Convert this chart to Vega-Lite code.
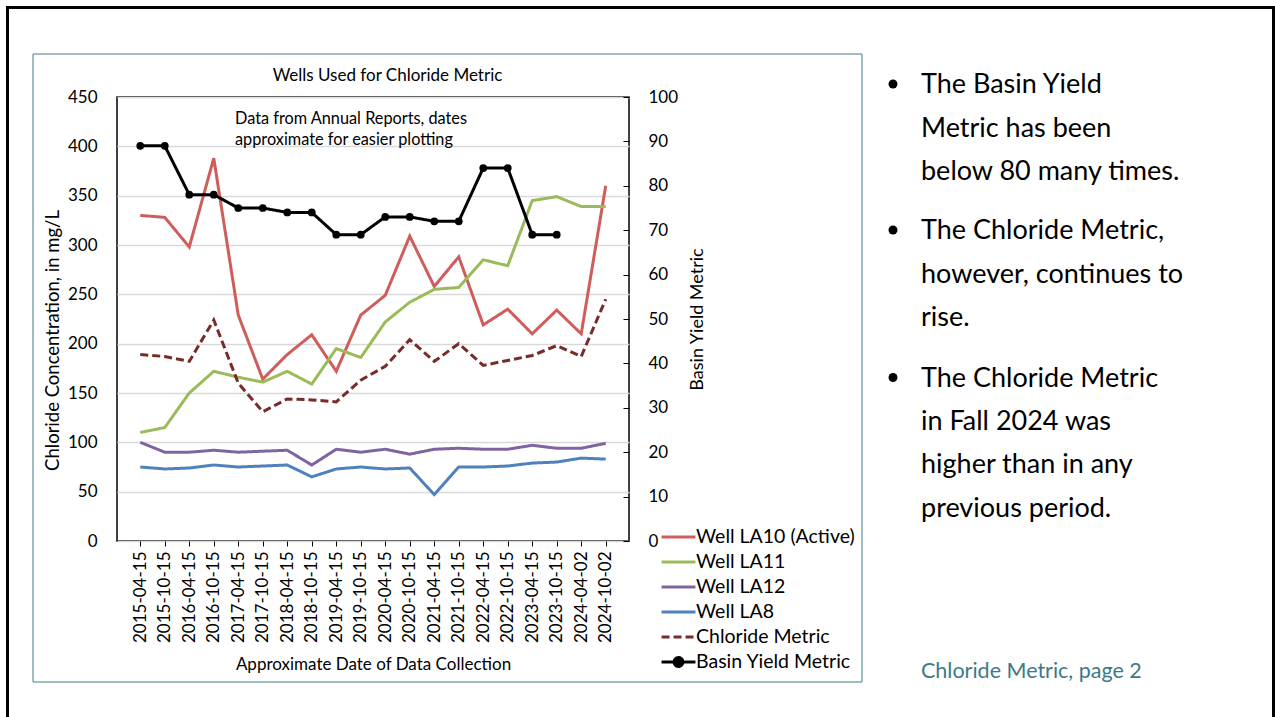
{
  "$schema": "https://vega.github.io/schema/vega-lite/v6.json",
  "width": 512,
  "height": 444,
  "autosize": {"type": "none"},
  "padding": {"left": 117, "top": 97, "right": 646, "bottom": 176},
  "background": "white",
  "config": {
    "font": "Lato",
    "view": {"stroke": "#000", "strokeWidth": 1.5},
    "axis": {"labelFont": "Lato", "titleFont": "Lato", "labelColor": "#000", "titleColor": "#000", "titleFontWeight": "normal", "tickColor": "#000", "domain": false}
  },
  "datasets": {
    "chem": [
      {"date": "2015-04-15", "series": "Well LA10 (Active)", "value": 330},
      {"date": "2015-10-15", "series": "Well LA10 (Active)", "value": 328},
      {"date": "2016-04-15", "series": "Well LA10 (Active)", "value": 298},
      {"date": "2016-10-15", "series": "Well LA10 (Active)", "value": 388},
      {"date": "2017-04-15", "series": "Well LA10 (Active)", "value": 229},
      {"date": "2017-10-15", "series": "Well LA10 (Active)", "value": 164},
      {"date": "2018-04-15", "series": "Well LA10 (Active)", "value": 189},
      {"date": "2018-10-15", "series": "Well LA10 (Active)", "value": 209},
      {"date": "2019-04-15", "series": "Well LA10 (Active)", "value": 172},
      {"date": "2019-10-15", "series": "Well LA10 (Active)", "value": 229},
      {"date": "2020-04-15", "series": "Well LA10 (Active)", "value": 249},
      {"date": "2020-10-15", "series": "Well LA10 (Active)", "value": 309},
      {"date": "2021-04-15", "series": "Well LA10 (Active)", "value": 258},
      {"date": "2021-10-15", "series": "Well LA10 (Active)", "value": 288},
      {"date": "2022-04-15", "series": "Well LA10 (Active)", "value": 219},
      {"date": "2022-10-15", "series": "Well LA10 (Active)", "value": 235},
      {"date": "2023-04-15", "series": "Well LA10 (Active)", "value": 210},
      {"date": "2023-10-15", "series": "Well LA10 (Active)", "value": 234},
      {"date": "2024-04-02", "series": "Well LA10 (Active)", "value": 210},
      {"date": "2024-10-02", "series": "Well LA10 (Active)", "value": 360},
      {"date": "2015-04-15", "series": "Well LA11", "value": 110},
      {"date": "2015-10-15", "series": "Well LA11", "value": 115},
      {"date": "2016-04-15", "series": "Well LA11", "value": 150},
      {"date": "2016-10-15", "series": "Well LA11", "value": 172},
      {"date": "2017-04-15", "series": "Well LA11", "value": 166},
      {"date": "2017-10-15", "series": "Well LA11", "value": 161},
      {"date": "2018-04-15", "series": "Well LA11", "value": 172},
      {"date": "2018-10-15", "series": "Well LA11", "value": 159},
      {"date": "2019-04-15", "series": "Well LA11", "value": 195},
      {"date": "2019-10-15", "series": "Well LA11", "value": 186},
      {"date": "2020-04-15", "series": "Well LA11", "value": 222},
      {"date": "2020-10-15", "series": "Well LA11", "value": 242},
      {"date": "2021-04-15", "series": "Well LA11", "value": 255},
      {"date": "2021-10-15", "series": "Well LA11", "value": 257},
      {"date": "2022-04-15", "series": "Well LA11", "value": 285},
      {"date": "2022-10-15", "series": "Well LA11", "value": 279},
      {"date": "2023-04-15", "series": "Well LA11", "value": 345},
      {"date": "2023-10-15", "series": "Well LA11", "value": 349},
      {"date": "2024-04-02", "series": "Well LA11", "value": 339},
      {"date": "2024-10-02", "series": "Well LA11", "value": 339},
      {"date": "2015-04-15", "series": "Well LA12", "value": 100},
      {"date": "2015-10-15", "series": "Well LA12", "value": 90},
      {"date": "2016-04-15", "series": "Well LA12", "value": 90},
      {"date": "2016-10-15", "series": "Well LA12", "value": 92},
      {"date": "2017-04-15", "series": "Well LA12", "value": 90},
      {"date": "2017-10-15", "series": "Well LA12", "value": 91},
      {"date": "2018-04-15", "series": "Well LA12", "value": 92},
      {"date": "2018-10-15", "series": "Well LA12", "value": 77},
      {"date": "2019-04-15", "series": "Well LA12", "value": 93},
      {"date": "2019-10-15", "series": "Well LA12", "value": 90},
      {"date": "2020-04-15", "series": "Well LA12", "value": 93},
      {"date": "2020-10-15", "series": "Well LA12", "value": 88},
      {"date": "2021-04-15", "series": "Well LA12", "value": 93},
      {"date": "2021-10-15", "series": "Well LA12", "value": 94},
      {"date": "2022-04-15", "series": "Well LA12", "value": 93},
      {"date": "2022-10-15", "series": "Well LA12", "value": 93},
      {"date": "2023-04-15", "series": "Well LA12", "value": 97},
      {"date": "2023-10-15", "series": "Well LA12", "value": 94},
      {"date": "2024-04-02", "series": "Well LA12", "value": 94},
      {"date": "2024-10-02", "series": "Well LA12", "value": 99},
      {"date": "2015-04-15", "series": "Well LA8", "value": 75},
      {"date": "2015-10-15", "series": "Well LA8", "value": 73},
      {"date": "2016-04-15", "series": "Well LA8", "value": 74},
      {"date": "2016-10-15", "series": "Well LA8", "value": 77},
      {"date": "2017-04-15", "series": "Well LA8", "value": 75},
      {"date": "2017-10-15", "series": "Well LA8", "value": 76},
      {"date": "2018-04-15", "series": "Well LA8", "value": 77},
      {"date": "2018-10-15", "series": "Well LA8", "value": 65},
      {"date": "2019-04-15", "series": "Well LA8", "value": 73},
      {"date": "2019-10-15", "series": "Well LA8", "value": 75},
      {"date": "2020-04-15", "series": "Well LA8", "value": 73},
      {"date": "2020-10-15", "series": "Well LA8", "value": 74},
      {"date": "2021-04-15", "series": "Well LA8", "value": 47},
      {"date": "2021-10-15", "series": "Well LA8", "value": 75},
      {"date": "2022-04-15", "series": "Well LA8", "value": 75},
      {"date": "2022-10-15", "series": "Well LA8", "value": 76},
      {"date": "2023-04-15", "series": "Well LA8", "value": 79},
      {"date": "2023-10-15", "series": "Well LA8", "value": 80},
      {"date": "2024-04-02", "series": "Well LA8", "value": 84},
      {"date": "2024-10-02", "series": "Well LA8", "value": 83},
      {"date": "2015-04-15", "series": "Chloride Metric", "value": 189},
      {"date": "2015-10-15", "series": "Chloride Metric", "value": 187},
      {"date": "2016-04-15", "series": "Chloride Metric", "value": 182},
      {"date": "2016-10-15", "series": "Chloride Metric", "value": 224},
      {"date": "2017-04-15", "series": "Chloride Metric", "value": 160},
      {"date": "2017-10-15", "series": "Chloride Metric", "value": 131},
      {"date": "2018-04-15", "series": "Chloride Metric", "value": 144},
      {"date": "2018-10-15", "series": "Chloride Metric", "value": 143},
      {"date": "2019-04-15", "series": "Chloride Metric", "value": 141},
      {"date": "2019-10-15", "series": "Chloride Metric", "value": 163},
      {"date": "2020-04-15", "series": "Chloride Metric", "value": 177},
      {"date": "2020-10-15", "series": "Chloride Metric", "value": 204},
      {"date": "2021-04-15", "series": "Chloride Metric", "value": 182},
      {"date": "2021-10-15", "series": "Chloride Metric", "value": 200},
      {"date": "2022-04-15", "series": "Chloride Metric", "value": 178},
      {"date": "2022-10-15", "series": "Chloride Metric", "value": 183},
      {"date": "2023-04-15", "series": "Chloride Metric", "value": 188},
      {"date": "2023-10-15", "series": "Chloride Metric", "value": 198},
      {"date": "2024-04-02", "series": "Chloride Metric", "value": 187},
      {"date": "2024-10-02", "series": "Chloride Metric", "value": 245},
      {"date": "2015-04-15", "series": "Basin Yield Metric", "value": 89},
      {"date": "2015-10-15", "series": "Basin Yield Metric", "value": 89},
      {"date": "2016-04-15", "series": "Basin Yield Metric", "value": 78},
      {"date": "2016-10-15", "series": "Basin Yield Metric", "value": 78},
      {"date": "2017-04-15", "series": "Basin Yield Metric", "value": 75},
      {"date": "2017-10-15", "series": "Basin Yield Metric", "value": 75},
      {"date": "2018-04-15", "series": "Basin Yield Metric", "value": 74},
      {"date": "2018-10-15", "series": "Basin Yield Metric", "value": 74},
      {"date": "2019-04-15", "series": "Basin Yield Metric", "value": 69},
      {"date": "2019-10-15", "series": "Basin Yield Metric", "value": 69},
      {"date": "2020-04-15", "series": "Basin Yield Metric", "value": 73},
      {"date": "2020-10-15", "series": "Basin Yield Metric", "value": 73},
      {"date": "2021-04-15", "series": "Basin Yield Metric", "value": 72},
      {"date": "2021-10-15", "series": "Basin Yield Metric", "value": 72},
      {"date": "2022-04-15", "series": "Basin Yield Metric", "value": 84},
      {"date": "2022-10-15", "series": "Basin Yield Metric", "value": 84},
      {"date": "2023-04-15", "series": "Basin Yield Metric", "value": 69},
      {"date": "2023-10-15", "series": "Basin Yield Metric", "value": 69}
    ]
  },
  "data": {"name": "chem"},
  "layer": [
    {
      "data": {"values": [{}]},
      "mark": {"type": "rect", "fill": null, "stroke": "#000", "strokeWidth": 3},
      "encoding": {"x": {"value": -109.5}, "x2": {"value": 1156.5}, "y": {"value": -89.5}, "y2": {"value": 660}}
    },
    {
      "data": {"values": [{}]},
      "mark": {"type": "rect", "fill": null, "stroke": "#3F7F8A", "strokeWidth": 1},
      "encoding": {"x": {"value": -84}, "x2": {"value": 745}, "y": {"value": -43}, "y2": {"value": 585}}
    },
    {
      "data": {"values": [{}]},
      "mark": {"type": "text", "text": "Wells Used for Chloride Metric", "font": "Lato", "fontSize": 17, "align": "center", "baseline": "alphabetic", "color": "#000"},
      "encoding": {"x": {"value": 270.5}, "y": {"value": -16}}
    },
    {
      "data": {"values": [{}]},
      "mark": {"type": "text", "text": ["Data from Annual Reports, dates", "approximate for easier plotting"], "font": "Lato", "fontSize": 16.3, "lineHeight": 20.5, "align": "left", "baseline": "alphabetic", "color": "#000"},
      "encoding": {"x": {"value": 118}, "y": {"value": 27}}
    },
    {
      "transform": [{"filter": "datum.series != 'Basin Yield Metric'"}],
      "mark": {"type": "line", "strokeWidth": 3},
      "encoding": {
        "x": {
          "field": "date", "type": "ordinal",
          "scale": {"type": "point", "padding": 0.95, "domain": ["2015-04-15","2015-10-15","2016-04-15","2016-10-15","2017-04-15","2017-10-15","2018-04-15","2018-10-15","2019-04-15","2019-10-15","2020-04-15","2020-10-15","2021-04-15","2021-10-15","2022-04-15","2022-10-15","2023-04-15","2023-10-15","2024-04-02","2024-10-02"]},
          "axis": {"title": "Approximate Date of Data Collection", "titleFontSize": 17, "titlePadding": 14, "labelFontSize": 17, "labelAngle": 270, "labelAlign": "right", "labelBaseline": "middle", "labelPadding": 5, "tickSize": 5, "ticks": true, "grid": false}
        },
        "y": {
          "field": "value", "type": "quantitative",
          "scale": {"domain": [0, 450], "nice": false},
          "axis": {"orient": "left", "title": "Chloride Concentration, in mg/L", "titleFontSize": 18.5, "titlePadding": 5, "titleY": 243, "labelFontSize": 17, "values": [0,50,100,150,200,250,300,350,400,450], "ticks": false, "labelPadding": 20, "grid": true, "gridColor": "#D9D9D9", "gridWidth": 1.3}
        },
        "color": {
          "field": "series", "type": "nominal",
          "scale": {"domain": ["Well LA10 (Active)", "Well LA11", "Well LA12", "Well LA8", "Chloride Metric", "Basin Yield Metric"], "range": ["#CF5D5A", "#9BBB59", "#8064A2", "#4F81BD", "#772C2A", "#000000"]},
          "legend": {
            "orient": "none", "legendX": 543, "legendY": 427.5, "title": null, "symbolType": "stroke", "symbolSize": 1150, "symbolStrokeWidth": 3, "labelFont": "Lato", "labelFontSize": 19.5, "labelColor": "#000", "labelOffset": -1, "rowPadding": 0, "clipHeight": 25,
            "encode": {
              "symbols": {"update": {
                "shape": {"signal": "datum.value === 'Basin Yield Metric' ? 'M-1,0H1M-0.26,0A0.26,0.26,0,1,0,0.26,0A0.26,0.26,0,1,0,-0.26,0' : 'stroke'"},
                "fill": {"signal": "datum.value === 'Basin Yield Metric' ? '#000' : 'transparent'"}
              }}
            }
          }
        },
        "strokeDash": {
          "field": "series", "type": "nominal",
          "scale": {"domain": ["Well LA10 (Active)", "Well LA11", "Well LA12", "Well LA8", "Chloride Metric", "Basin Yield Metric"], "range": [[1,0],[1,0],[1,0],[1,0],[8,4],[1,0]]},
          "legend": {
            "orient": "none", "legendX": 543, "legendY": 427.5, "title": null, "symbolType": "stroke", "symbolSize": 1150, "symbolStrokeWidth": 3, "labelFont": "Lato", "labelFontSize": 19.5, "labelColor": "#000", "labelOffset": -1, "rowPadding": 0, "clipHeight": 25,
            "encode": {
              "symbols": {"update": {
                "shape": {"signal": "datum.value === 'Basin Yield Metric' ? 'M-1,0H1M-0.26,0A0.26,0.26,0,1,0,0.26,0A0.26,0.26,0,1,0,-0.26,0' : 'stroke'"},
                "fill": {"signal": "datum.value === 'Basin Yield Metric' ? '#000' : 'transparent'"}
              }}
            }
          }
        }
      }
    },
    {
      "transform": [{"filter": "datum.series == 'Basin Yield Metric'"}],
      "mark": {"type": "line", "strokeWidth": 3, "point": {"filled": true, "size": 60, "color": "#000"}},
      "encoding": {
        "x": {"field": "date", "type": "ordinal"},
        "y": {
          "field": "value", "type": "quantitative",
          "scale": {"domain": [0, 100], "nice": false},
          "axis": {"orient": "right", "title": "Basin Yield Metric", "titleAngle": 270, "titleFontSize": 18, "titlePadding": 29, "labelFontSize": 17, "values": [0,10,20,30,40,50,60,70,80,90,100], "ticks": true, "tickSize": -6, "labelPadding": 25, "grid": false}
        },
        "color": {"field": "series", "type": "nominal"},
        "strokeDash": {"field": "series", "type": "nominal"}
      }
    },
    {
      "data": {"values": [{}]},
      "mark": {"type": "text", "text": ["The Basin Yield", "Metric has been", "below 80 many times."], "font": "Lato", "fontSize": 27, "lineHeight": 43.3, "align": "left", "baseline": "alphabetic", "color": "#000"},
      "encoding": {"x": {"value": 804}, "y": {"value": -3.7}}
    },
    {
      "data": {"values": [{}]},
      "mark": {"type": "text", "text": ["The Chloride Metric,", "however, continues to", "rise."], "font": "Lato", "fontSize": 27, "lineHeight": 43.5, "align": "left", "baseline": "alphabetic", "color": "#000"},
      "encoding": {"x": {"value": 804}, "y": {"value": 142}}
    },
    {
      "data": {"values": [{}]},
      "mark": {"type": "text", "text": ["The Chloride Metric", "in Fall 2024 was", "higher than in any", "previous period."], "font": "Lato", "fontSize": 27, "lineHeight": 43.3, "align": "left", "baseline": "alphabetic", "color": "#000"},
      "encoding": {"x": {"value": 804}, "y": {"value": 289.7}}
    },
    {
      "data": {"values": [{}]},
      "mark": {"type": "point", "filled": true, "shape": "circle", "size": 80, "color": "#000", "opacity": 1},
      "encoding": {"x": {"value": 776}, "y": {"value": -13}}
    },
    {
      "data": {"values": [{}]},
      "mark": {"type": "point", "filled": true, "shape": "circle", "size": 80, "color": "#000", "opacity": 1},
      "encoding": {"x": {"value": 776}, "y": {"value": 133}}
    },
    {
      "data": {"values": [{}]},
      "mark": {"type": "point", "filled": true, "shape": "circle", "size": 80, "color": "#000", "opacity": 1},
      "encoding": {"x": {"value": 776}, "y": {"value": 280.5}}
    },
    {
      "data": {"values": [{}]},
      "mark": {"type": "text", "text": "Chloride Metric, page 2", "font": "Lato", "fontSize": 21.5, "align": "left", "baseline": "alphabetic", "color": "#3D7A87"},
      "encoding": {"x": {"value": 804}, "y": {"value": 580.7}}
    }
  ],
  "resolve": {"scale": {"y": "independent"}}
}
